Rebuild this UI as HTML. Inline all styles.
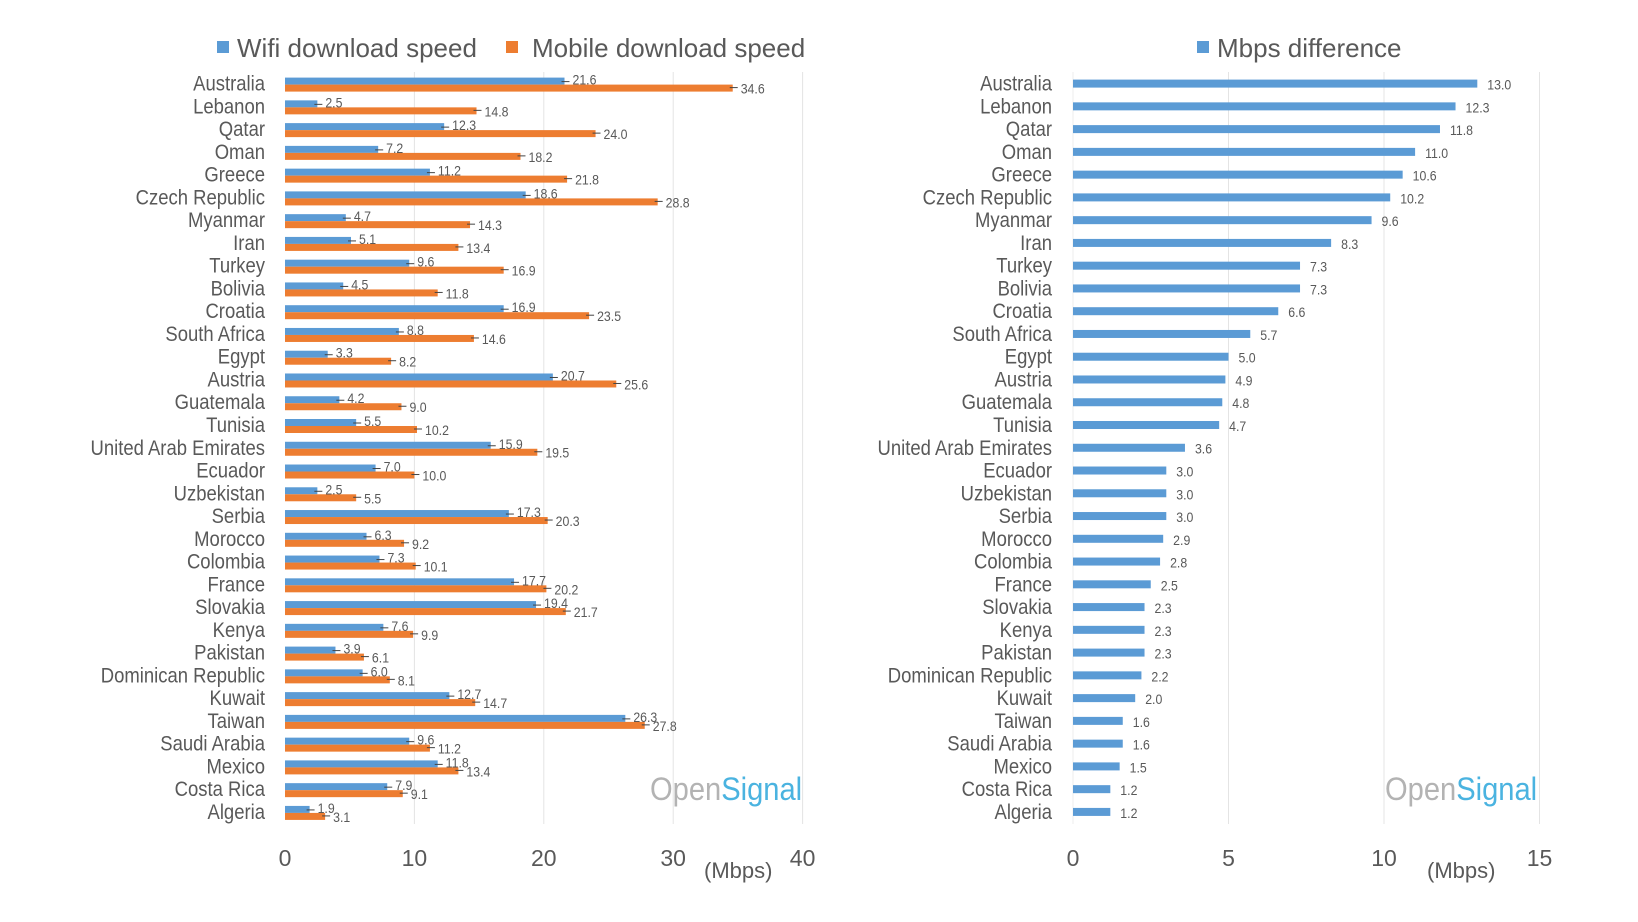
<!DOCTYPE html>
<html><head><meta charset="utf-8"><style>
html,body{margin:0;padding:0;background:#fff;}
svg{display:block;font-family:"Liberation Sans Narrow","Liberation Sans",sans-serif;}
</style></head><body>
<svg id="chart" width="1638" height="922" viewBox="0 0 1638 922" xmlns="http://www.w3.org/2000/svg">
<rect width="1638" height="922" fill="#fff"/>
<g id="left"></g><g id="right"></g>
</svg>
<script>
const countries = ["Australia","Lebanon","Qatar","Oman","Greece","Czech Republic","Myanmar","Iran","Turkey","Bolivia","Croatia","South Africa","Egypt","Austria","Guatemala","Tunisia","United Arab Emirates","Ecuador","Uzbekistan","Serbia","Morocco","Colombia","France","Slovakia","Kenya","Pakistan","Dominican Republic","Kuwait","Taiwan","Saudi Arabia","Mexico","Costa Rica","Algeria"];
const wifi = [21.6,2.5,12.3,7.2,11.2,18.6,4.7,5.1,9.6,4.5,16.9,8.8,3.3,20.7,4.2,5.5,15.9,7.0,2.5,17.3,6.3,7.3,17.7,19.4,7.6,3.9,6.0,12.7,26.3,9.6,11.8,7.9,1.9];
const mobile = [34.6,14.8,24.0,18.2,21.8,28.8,14.3,13.4,16.9,11.8,23.5,14.6,8.2,25.6,9.0,10.2,19.5,10.0,5.5,20.3,9.2,10.1,20.2,21.7,9.9,6.1,8.1,14.7,27.8,11.2,13.4,9.1,3.1];
const diff = [13.0,12.3,11.8,11.0,10.6,10.2,9.6,8.3,7.3,7.3,6.6,5.7,5.0,4.9,4.8,4.7,3.6,3.0,3.0,3.0,2.9,2.8,2.5,2.3,2.3,2.3,2.2,2.0,1.6,1.6,1.5,1.2,1.2];
const leftTicks = [0,10,20,30,40];
const rightTicks = [0,5,10,15];

const NS="http://www.w3.org/2000/svg";
function mk(parent,tag,attrs,text){const e=document.createElementNS(NS,tag);for(const k in attrs)e.setAttribute(k,attrs[k]);if(text!==undefined)e.textContent=text;parent.appendChild(e);return e;}
function squeeze(x,s){return 'translate('+x+',0) scale('+s+',1) translate('+(-x)+',0)';}
const BLUE="#5b9bd5", ORANGE="#ed7d31";
const rowY = i => 83.6 + i*22.76;
const xL = v => 285 + v*12.94;
const xR = v => 1073 + v*31.1;
const L=document.getElementById('left'), R=document.getElementById('right');

leftTicks.forEach(t=>{
  if(t>0){const g=mk(L,'line',{x1:xL(t),x2:xL(t),y1:72,y2:824,stroke:'#e4e4e4','stroke-width':1});
  
  }
  const tx=mk(L,'text',{x:xL(t),y:866,'font-size':23,fill:'#595959','text-anchor':'middle'},String(t));
  
  
});
rightTicks.forEach(t=>{
  const g=mk(R,'line',{x1:xR(t),x2:xR(t),y1:72,y2:824,stroke:t===0?'#eeeeee':'#e4e4e4','stroke-width':1});
  
  
  const tx=mk(R,'text',{x:xR(t),y:866,'font-size':23,fill:'#595959','text-anchor':'middle'},String(t));
  
  
});

countries.forEach((c,i)=>{
  const y=rowY(i);
  const l=mk(L,'text',{x:265,y:y+7,'font-size':21,fill:'#595959','text-anchor':'end',transform:squeeze(265,0.88)},c);
  
  
  const b1=mk(L,'rect',{x:xL(0),y:y-6,width:xL(wifi[i])-xL(0),height:7,fill:BLUE});
  
  
  const b2=mk(L,'rect',{x:xL(0),y:y+1,width:xL(mobile[i])-xL(0),height:7,fill:ORANGE});
  
  
  mk(L,'line',{x1:xL(wifi[i])-3,x2:xL(wifi[i])+5,y1:y-2,y2:y-2,stroke:'#444','stroke-width':1});
  mk(L,'line',{x1:xL(mobile[i])-3,x2:xL(mobile[i])+5,y1:y+4,y2:y+4,stroke:'#444','stroke-width':1});
  const v1=mk(L,'text',{x:xL(wifi[i])+8,y:y+1,'font-size':14,fill:'#595959',transform:squeeze(xL(wifi[i])+8,0.88)},wifi[i].toFixed(1));
  
  
  const v2=mk(L,'text',{x:xL(mobile[i])+8,y:y+10,'font-size':14,fill:'#595959',transform:squeeze(xL(mobile[i])+8,0.88)},mobile[i].toFixed(1));
  
  

  const r=mk(R,'text',{x:1052,y:y+7,'font-size':21,fill:'#595959','text-anchor':'end',transform:squeeze(1052,0.88)},c);
  
  
  const b3=mk(R,'rect',{x:xR(0),y:y-4,width:xR(diff[i])-xR(0),height:8,fill:BLUE});
  
  
  const v3=mk(R,'text',{x:xR(diff[i])+10,y:y+6,'font-size':14,fill:'#595959',transform:squeeze(xR(diff[i])+10,0.88)},diff[i].toFixed(1));
  
  
});
</script>
<svg style="position:absolute;left:0;top:0" width="1638" height="922" font-family="Liberation Sans Narrow, Liberation Sans, sans-serif">
  <g>
    <rect x="217" y="41" width="12" height="12" fill="#5b9bd5"/>
    <text x="237" y="57" font-size="26" fill="#595959">Wifi download speed</text>
    <rect x="506" y="41" width="12" height="12" fill="#ed7d31"/>
    <text x="532" y="57" font-size="26" fill="#595959">Mobile download speed</text>
  </g>
  <g>
    <rect x="1197" y="41" width="12" height="12" fill="#5b9bd5"/>
    <text x="1217" y="57" font-size="26" fill="#595959">Mbps difference</text>
  </g>
  <text x="704" y="878" font-size="22" fill="#595959">(Mbps)</text>
  <text x="1427" y="878" font-size="22" fill="#595959">(Mbps)</text>
  <text x="650" y="800" font-size="32" font-family="Liberation Sans, sans-serif" transform="translate(650,0) scale(0.91,1) translate(-650,0)"><tspan fill="#b3b3b3">Open</tspan><tspan fill="#4ab3e0">Signal</tspan></text>
  <text x="1385" y="800" font-size="32" font-family="Liberation Sans, sans-serif" transform="translate(1385,0) scale(0.91,1) translate(-1385,0)"><tspan fill="#b3b3b3">Open</tspan><tspan fill="#4ab3e0">Signal</tspan></text>
</svg>
</body></html>
